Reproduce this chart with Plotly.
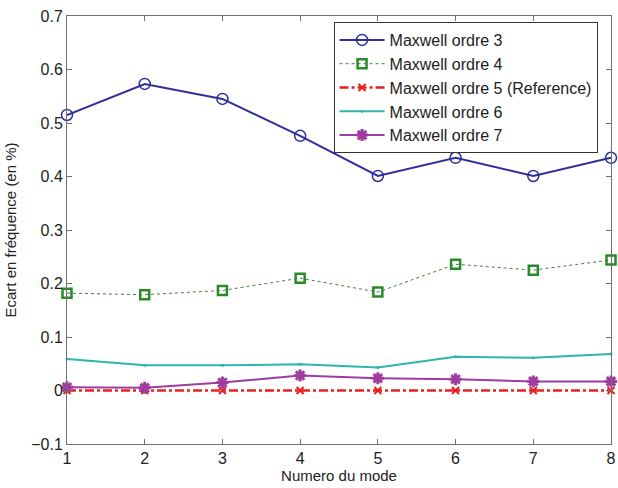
import plotly.graph_objects as go

modes = [1, 2, 3, 4, 5, 6, 7, 8]
ordre3 = [0.515, 0.573, 0.545, 0.476, 0.401, 0.435, 0.401, 0.435]
ordre4 = [0.182, 0.179, 0.187, 0.210, 0.184, 0.236, 0.225, 0.244]
ordre5 = [0, 0, 0, 0, 0, 0, 0, 0]
ordre6 = [0.059, 0.047, 0.047, 0.049, 0.043, 0.063, 0.061, 0.068]
ordre7 = [0.006, 0.005, 0.015, 0.028, 0.023, 0.021, 0.017, 0.017]

x_ticks = [1, 2, 3, 4, 5, 6, 7, 8]
y_ticks = [-0.1, 0, 0.1, 0.2, 0.3, 0.4, 0.5, 0.6, 0.7]
y_labels = ["\u22120.1", "0", "0.1", "0.2", "0.3", "0.4", "0.5", "0.6", "0.7"]

FONT = "Liberation Sans, Arial"

fig = go.Figure()
fig.add_trace(go.Scatter(x=modes, y=ordre3, name="Maxwell ordre 3", mode="lines+markers", cliponaxis=False,
                         line=dict(color="#2f2f9a", width=2),
                         marker=dict(symbol="circle-open", size=11, color="#2f2f9a", line=dict(width=1.5))))
fig.add_trace(go.Scatter(x=modes, y=ordre4, name="Maxwell ordre 4", mode="lines+markers", cliponaxis=False,
                         line=dict(color="#4a7a4a", width=1, dash="dot"),
                         marker=dict(symbol="square-open", size=9, color="#2a8a2a", line=dict(width=2.5))))
fig.add_trace(go.Scatter(x=modes, y=ordre5, name="Maxwell ordre 5 (Reference)", mode="lines+markers", cliponaxis=False,
                         line=dict(color="#e82020", width=2.5, dash="dashdot"),
                         marker=dict(symbol="x-thin-open", size=7, color="#e82020", line=dict(width=2))))
fig.add_trace(go.Scatter(x=modes, y=ordre6, name="Maxwell ordre 6", mode="lines+markers", cliponaxis=False,
                         line=dict(color="#2fb5b0", width=2),
                         marker=dict(symbol="circle", size=3, color="#2fb5b0")))
fig.add_trace(go.Scatter(x=modes, y=ordre7, name="Maxwell ordre 7", mode="lines+markers", cliponaxis=False,
                         line=dict(color="#a03ca0", width=2),
                         marker=dict(symbol="asterisk-open", size=10, color="#a03ca0", line=dict(width=3))))

axis_common = dict(showline=True, linecolor="#707070", linewidth=1, mirror="allticks",
                   ticks="inside", ticklen=5, tickcolor="#707070", showgrid=False, zeroline=False,
                   automargin=False, ticklabeloverflow="allow",
                   tickfont=dict(family=FONT, size=16, color="#222222"))

fig.update_xaxes(range=[1, 8], tickvals=x_ticks,
                 title=dict(text="Numero du mode", font=dict(family=FONT, size=15, color="#222222"), standoff=0),
                 **axis_common)
fig.update_yaxes(range=[-0.1, 0.7], tickvals=y_ticks, ticktext=y_labels,
                 title=dict(text="Ecart en fréquence (en %)", font=dict(family=FONT, size=15, color="#222222"), standoff=10),
                 **axis_common)

fig.update_layout(
    width=618, height=488,
    margin=dict(l=67, r=7, t=16, b=44),
    plot_bgcolor="white", paper_bgcolor="white",
    showlegend=True,
    legend=dict(x=0.49, y=0.986, xanchor="left", yanchor="top",
                bgcolor="white", bordercolor="#333333", borderwidth=1,
                font=dict(family=FONT, size=16, color="#222222"),
                tracegroupgap=0, itemwidth=45),
)

fig.write_html("out.html", config={"displayModeBar": False},
               post_script="document.body.style.margin='0';document.body.style.overflow='hidden';")
